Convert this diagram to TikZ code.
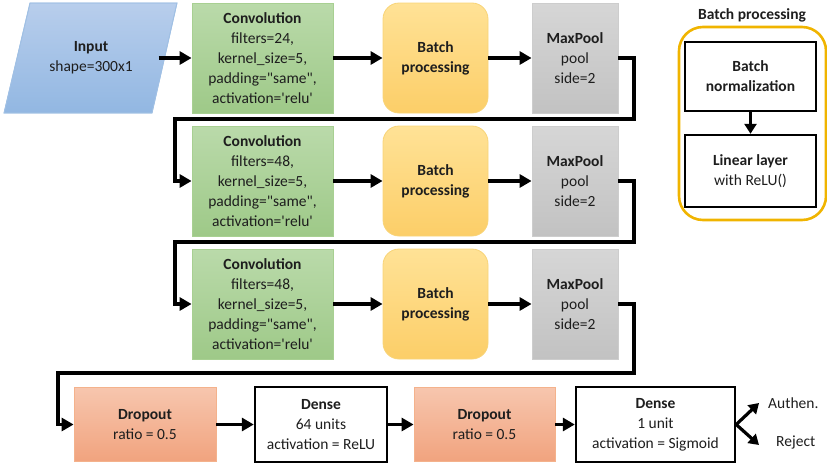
\documentclass[tikz,border=0pt]{standalone}
\usepackage{fontspec}
\setmainfont{Carlito}[Ligatures=TeXOff]
\usetikzlibrary{arrows.meta}

\definecolor{txt}{RGB}{30,30,30}
\definecolor{inTop}{RGB}{184,206,236}
\definecolor{inBot}{RGB}{146,183,226}
\definecolor{inLine}{RGB}{160,192,228}
\definecolor{cvTop}{RGB}{186,218,170}
\definecolor{cvBot}{RGB}{158,201,136}
\definecolor{cvLine}{RGB}{168,208,146}
\definecolor{bpTop}{RGB}{255,226,150}
\definecolor{bpBot}{RGB}{252,206,104}
\definecolor{bpLine}{RGB}{248,212,120}
\definecolor{mpTop}{RGB}{214,214,214}
\definecolor{mpBot}{RGB}{194,194,194}
\definecolor{mpLine}{RGB}{205,205,205}
\definecolor{doTop}{RGB}{247,198,174}
\definecolor{doBot}{RGB}{241,163,126}
\definecolor{doLine}{RGB}{244,178,140}
\definecolor{gold}{RGB}{240,180,0}

\tikzset{
  base/.style={align=center, inner sep=0pt, text=txt, font=\fontsize{15.5}{20}\selectfont},
  inputshape/.style={top color=inTop, bottom color=inBot, draw=inLine, line width=0.8pt},
  convbox/.style={base, rectangle, minimum width=141pt, minimum height=110pt,
    top color=cvTop, bottom color=cvBot, draw=cvLine, line width=0.8pt},
  batchbox/.style={base, rectangle, rounded corners=16pt, minimum width=105pt, minimum height=110pt,
    top color=bpTop, bottom color=bpBot, draw=bpLine, line width=0.8pt},
  poolbox/.style={base, rectangle, minimum width=86pt, minimum height=110pt,
    top color=mpTop, bottom color=mpBot, draw=mpLine, line width=0.8pt},
  dropbox/.style={base, rectangle, minimum width=142pt, minimum height=74pt,
    top color=doTop, bottom color=doBot, draw=doLine, line width=0.8pt},
  densebox/.style={base, rectangle, minimum height=75pt, fill=white, draw=black, line width=2.4pt},
  innerbox/.style={base, rectangle, minimum width=131pt, fill=white, draw=black, line width=2.4pt},
  panelbox/.style={rectangle, rounded corners=24pt, minimum width=147pt, minimum height=193pt,
    draw=gold, line width=2.6pt},
  plain/.style={base},
  arr/.style={line width=3.6pt, line join=miter, -{Triangle[length=12pt,width=13pt]}},
  smallarr/.style={line width=3.2pt, -{Triangle[length=10pt,width=12pt]}},
}

\begin{document}
\begin{tikzpicture}[x=1pt,y=-1pt]
  \useasboundingbox (0,0) rectangle (827,466);

  % Input parallelogram with its label
  \shade[inputshape] (4,113) -- (30,3) -- (177,3) -- (152,113) -- cycle;
  \draw[inLine, line width=0.8pt] (4,113) -- (30,3) -- (177,3) -- (152,113) -- cycle;
  \node[plain, minimum width=147pt, minimum height=110pt] (input) at (91,58) {\textbf{Input}\\shape=300x1};

  % Row 1
  \node[convbox] (conv1) at (262.5,58) {\textbf{Convolution}\\filters=24,\\kernel\_size=5,\\padding="same",\\activation='relu'};
  \node[batchbox] (bp1) at (435.5,58) {\textbf{Batch}\\\textbf{processing}};
  \node[poolbox] (pool1) at (575,58) {\textbf{MaxPool}\\pool\\side=2};

  % Row 2
  \node[convbox] (conv2) at (262.5,181) {\textbf{Convolution}\\filters=48,\\kernel\_size=5,\\padding="same",\\activation='relu'};
  \node[batchbox] (bp2) at (435.5,181) {\textbf{Batch}\\\textbf{processing}};
  \node[poolbox] (pool2) at (575,181) {\textbf{MaxPool}\\pool\\side=2};

  % Row 3
  \node[convbox] (conv3) at (262.5,304) {\textbf{Convolution}\\filters=48,\\kernel\_size=5,\\padding="same",\\activation='relu'};
  \node[batchbox] (bp3) at (435.5,304) {\textbf{Batch}\\\textbf{processing}};
  \node[poolbox] (pool3) at (575,304) {\textbf{MaxPool}\\pool\\side=2};

  % Row 4
  \node[dropbox] (drop1) at (145,424.5) {\textbf{Dropout}\\ratio = 0.5};
  \node[densebox, minimum width=132pt] (dense1) at (321,424.5) {\textbf{Dense}\\64 units\\activation = ReLU};
  \node[dropbox, minimum width=141pt] (drop2) at (484.5,424.5) {\textbf{Dropout}\\ratio = 0.5};
  \node[densebox, minimum width=159pt] (dense2) at (655.5,424.5) {\textbf{Dense}\\1 unit\\activation = Sigmoid};

  % Outputs
  \node[plain, anchor=west] (authen) at (768,403) {Authen.};
  \node[plain, anchor=west] (reject) at (776,442) {Reject};
  \coordinate (authTip) at (759,403);
  \coordinate (rejTip) at (759,445);

  % Batch processing detail
  \node[plain] (ptitle) at (752,15) {\textbf{Batch processing}};
  \node[panelbox] (panel) at (752.5,123.5) {};
  \node[innerbox, minimum height=69pt] (bn) at (750.5,76.5) {\textbf{Batch}\\\textbf{normalization}};
  \node[innerbox, minimum height=72pt] (lin) at (750.5,171) {\textbf{Linear layer}\\with ReLU()};

  % Row-to-row turns
  \coordinate (t1) at (634,119);
  \coordinate (u1) at (175,119);
  \coordinate (t2) at (634,242);
  \coordinate (u2) at (175,242);
  \coordinate (t3) at (634,373);
  \coordinate (u3) at (58,373);

  % Connectors
  \draw[arr] ([xshift=-6pt]input.east) -- (conv1.west);
  \draw[arr] (conv1) -- (bp1);
  \draw[arr] (bp1) -- (pool1);
  \draw[arr] (pool1.east) -| (t1) -- (u1) |- (conv2.west);
  \draw[arr] (conv2) -- (bp2);
  \draw[arr] (bp2) -- (pool2);
  \draw[arr] (pool2.east) -| (t2) -- (u2) |- (conv3.west);
  \draw[arr] (conv3) -- (bp3);
  \draw[arr] (bp3) -- (pool3);
  \draw[arr] (pool3.east) -| (t3) -- (u3) |- (drop1.west);
  \draw[arr] (drop1) -- (dense1);
  \draw[arr] (dense1) -- (drop2);
  \draw[arr] (drop2) -- (dense2);
  \draw[smallarr] (dense2.east) -- (authTip);
  \draw[smallarr] (dense2.east) -- (rejTip);
  \draw[smallarr] (bn) -- (lin);
\end{tikzpicture}
\end{document}
